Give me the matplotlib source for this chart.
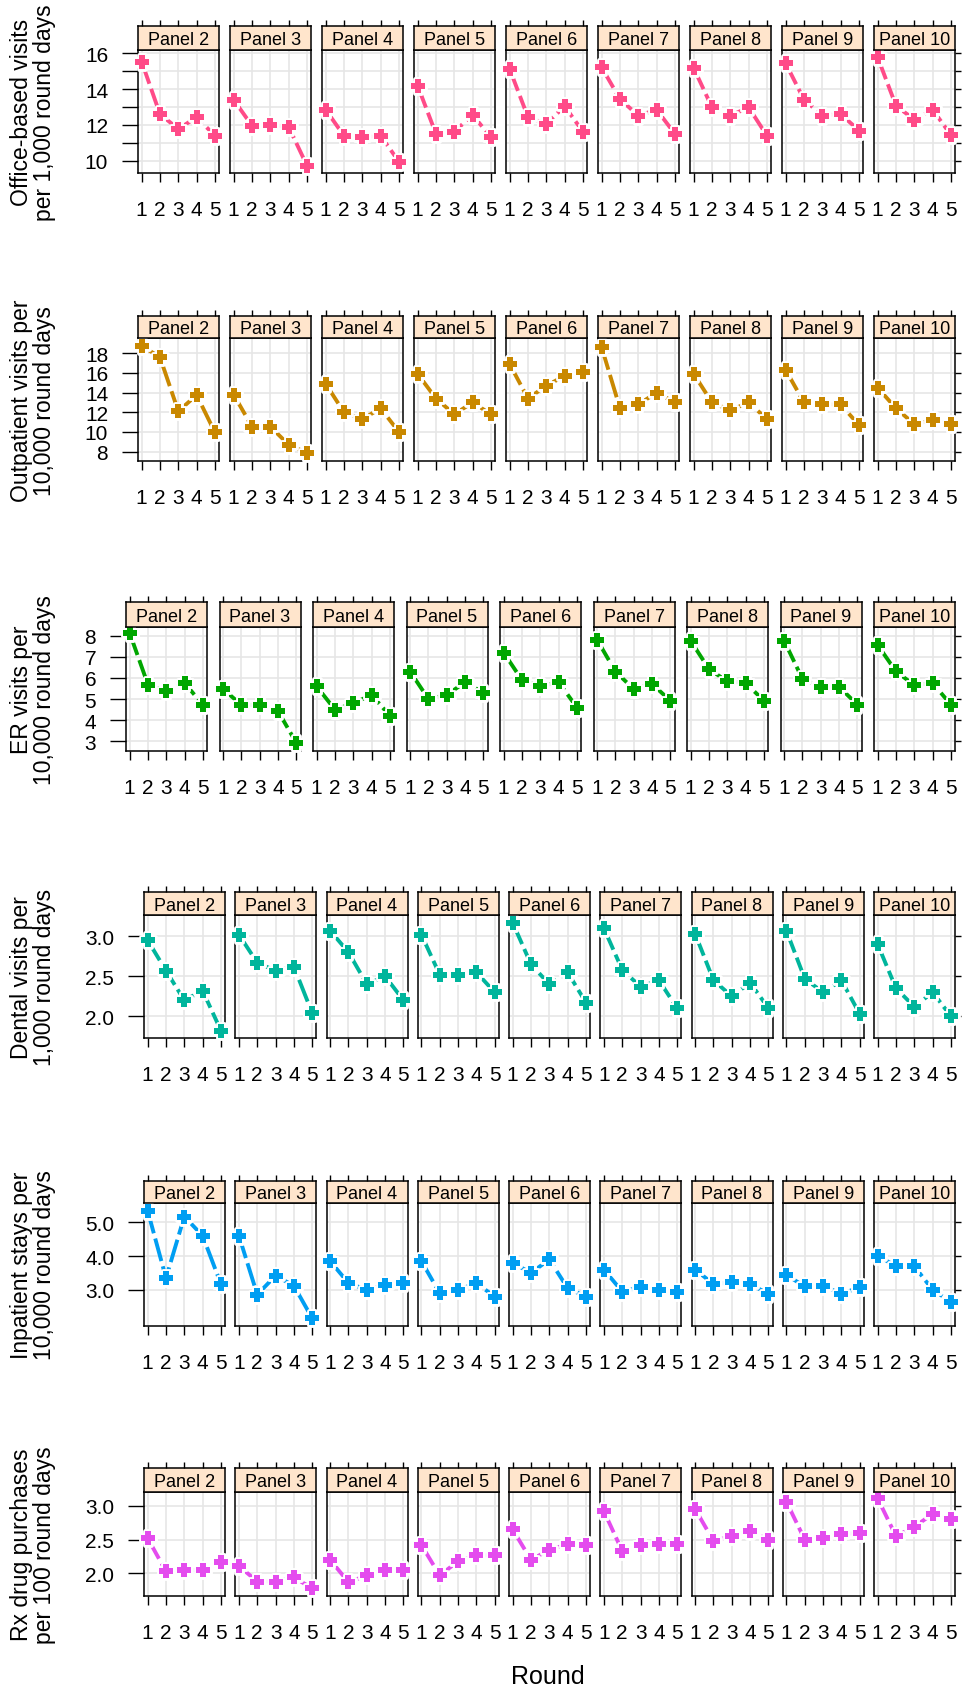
import matplotlib.pyplot as plt
from matplotlib.path import Path

plt.rcParams['font.family'] = ['Liberation Sans', 'DejaVu Sans']

rounds = [1, 2, 3, 4, 5]
panels = ['Panel 2', 'Panel 3', 'Panel 4', 'Panel 5', 'Panel 6',
          'Panel 7', 'Panel 8', 'Panel 9', 'Panel 10']

# one list of 5 rounds per panel
office = [[15.52, 12.60, 11.78, 12.43, 11.40],
          [13.40, 11.96, 12.00, 11.90, 9.74],
          [12.85, 11.40, 11.31, 11.40, 9.96],
          [14.18, 11.50, 11.63, 12.56, 11.31],
          [15.11, 12.43, 12.06, 13.04, 11.63],
          [15.20, 13.44, 12.52, 12.85, 11.50],
          [15.17, 12.98, 12.52, 12.98, 11.40],
          [15.43, 13.41, 12.52, 12.61, 11.69],
          [15.76, 13.07, 12.30, 12.85, 11.44]]
outpatient = [[18.77, 17.59, 12.10, 13.76, 9.95],
              [13.80, 10.54, 10.54, 8.71, 7.87],
              [14.90, 12.00, 11.30, 12.40, 10.00],
              [15.90, 13.40, 11.80, 13.00, 11.80],
              [16.90, 13.40, 14.70, 15.70, 16.10],
              [18.60, 12.40, 12.80, 14.00, 13.00],
              [15.90, 13.00, 12.20, 13.00, 11.30],
              [16.30, 13.00, 12.80, 12.80, 10.70],
              [14.50, 12.40, 10.80, 11.20, 10.80]]
er = [[8.13, 5.68, 5.36, 5.76, 4.72],
      [5.47, 4.72, 4.73, 4.42, 2.91],
      [5.60, 4.50, 4.80, 5.20, 4.20],
      [6.30, 5.00, 5.20, 5.80, 5.30],
      [7.20, 5.90, 5.60, 5.80, 4.60],
      [7.80, 6.30, 5.47, 5.71, 4.92],
      [7.76, 6.42, 5.84, 5.76, 4.92],
      [7.76, 5.95, 5.58, 5.58, 4.73],
      [7.56, 6.31, 5.66, 5.76, 4.73]]
dental = [[2.95, 2.57, 2.20, 2.32, 1.82],
          [3.02, 2.67, 2.57, 2.62, 2.04],
          [3.07, 2.80, 2.40, 2.50, 2.20],
          [3.02, 2.52, 2.52, 2.55, 2.30],
          [3.17, 2.65, 2.40, 2.55, 2.17],
          [3.10, 2.58, 2.37, 2.45, 2.10],
          [3.03, 2.45, 2.25, 2.42, 2.10],
          [3.07, 2.47, 2.30, 2.45, 2.03],
          [2.90, 2.35, 2.12, 2.30, 2.00]]
inpatient = [[5.34, 3.35, 5.17, 4.60, 3.17],
             [4.60, 2.86, 3.42, 3.12, 2.16],
             [3.85, 3.20, 3.00, 3.15, 3.20],
             [3.85, 2.90, 3.00, 3.20, 2.80],
             [3.80, 3.50, 3.90, 3.05, 2.80],
             [3.60, 2.95, 3.08, 3.00, 2.95],
             [3.60, 3.17, 3.22, 3.17, 2.88],
             [3.44, 3.10, 3.12, 2.88, 3.08],
             [4.01, 3.70, 3.70, 3.00, 2.65]]
rx = [[2.52, 2.03, 2.05, 2.05, 2.17],
      [2.11, 1.88, 1.88, 1.94, 1.78],
      [2.20, 1.87, 1.97, 2.05, 2.05],
      [2.42, 1.97, 2.18, 2.27, 2.27],
      [2.65, 2.20, 2.35, 2.43, 2.42],
      [2.92, 2.33, 2.42, 2.43, 2.43],
      [2.95, 2.48, 2.55, 2.62, 2.50],
      [3.06, 2.50, 2.53, 2.58, 2.60],
      [3.11, 2.55, 2.69, 2.88, 2.80]]

measures = [office, outpatient, er, dental, inpatient, rx]
ylabels = ['Office-based visits\nper 1,000 round days',
           'Outpatient visits per\n10,000 round days',
           'ER visits per\n10,000 round days',
           'Dental visits per\n1,000 round days',
           'Inpatient stays per\n10,000 round days',
           'Rx drug purchases\nper 100 round days']
yticks = [[10, 11, 12, 13, 14, 15, 16],
          [8, 10, 12, 14, 16, 18],
          [3, 4, 5, 6, 7, 8],
          [2.0, 2.5, 3.0],
          [3.0, 4.0, 5.0],
          [2.0, 2.5, 3.0]]
yticklabels = [['10', '', '12', '', '14', '', '16'],
               ['8', '10', '12', '14', '16', '18'],
               ['3', '4', '5', '6', '7', '8'],
               ['2.0', '2.5', '3.0'],
               ['3.0', '4.0', '5.0'],
               ['2.0', '2.5', '3.0']]
ylims = [(9.33, 16.17), (7.02, 19.55), (2.555, 8.40),
         (1.725, 3.27), (1.94, 5.57), (1.67, 3.20)]
colors = ['#FF4B88', '#C98800', '#00A600', '#00B59C', '#009EF2', '#E44CEE']

# pixel layout per row: panel left, strip top, panel top, panel bottom
layout = [(138, 27, 51, 174),
          (138, 316.7, 339, 462.3),
          (126, 603.3, 628.3, 751.7),
          (144, 892.7, 915.7, 1039.3),
          (144, 1181.7, 1204, 1326.7),
          (144, 1468.7, 1493.3, 1596.7)]

W, H = 963, 1690
fig = plt.figure(figsize=(W / 100, H / 100), dpi=100)

# chunky plus marker
a = 0.42
fatplus = Path([(-a, 1), (a, 1), (a, a), (1, a), (1, -a), (a, -a), (a, -1),
                (-a, -1), (-a, -a), (-1, -a), (-1, a), (-a, a), (-a, 1)],
               closed=True)


def box(x0, y0, x1, y1):
    return [x0 / W, 1 - y1 / H, (x1 - x0) / W, (y1 - y0) / H]


RIGHT = 955
PW = 81.0

for r, data in enumerate(measures):
    left, stop, ptop, pbot = layout[r]
    gap = (RIGHT - left - 9 * PW) / 8
    for j in range(9):
        x0 = left + j * (PW + gap)
        x1 = x0 + PW
        ax = fig.add_axes(box(x0, ptop, x1, pbot))
        sax = fig.add_axes(box(x0, stop, x1, ptop))

        ax.set_xlim(0.8, 5.22)
        ax.set_ylim(ylims[r])
        ax.set_xticks(rounds)
        ax.set_yticks(yticks[r])
        ax.set_yticklabels(yticklabels[r])
        ax.grid(True, color='#E6E6E6', lw=1.2)
        ax.set_axisbelow(True)
        ax.tick_params(axis='x', direction='out', length=6.5, width=1,
                       pad=13, labelsize=15)
        if j == 0:
            ax.tick_params(axis='y', left=True, right=False, labelleft=True,
                           direction='out', length=11.5, width=1, pad=10,
                           labelsize=15)
        elif j == 8:
            ax.tick_params(axis='y', left=False, right=True, labelleft=False,
                           labelright=False, direction='out', length=4.5,
                           width=1)
        else:
            ax.tick_params(axis='y', left=False, labelleft=False)
        for s in ax.spines.values():
            s.set_linewidth(1.1)

        c = colors[r]
        ax.plot(rounds, data[j], color=c, lw=2.8, ls=(0, (6, 1.4)),
                solid_capstyle='butt', zorder=3)
        ax.plot(rounds, data[j], marker=fatplus, ls='none', ms=10.5,
                mfc='white', mec='white', mew=3.5, zorder=4, clip_on=False)
        ax.plot(rounds, data[j], marker=fatplus, ls='none', ms=10.5, color=c,
                mew=0, zorder=5, clip_on=False)

        sax.set_facecolor('#FFE5CC')
        sax.set_xlim(0.8, 5.22)
        sax.set_xticks(rounds)
        sax.set_yticks([])
        sax.tick_params(axis='x', top=True, bottom=False, labeltop=False,
                        labelbottom=False, direction='out', length=4.3,
                        width=1)
        for s in sax.spines.values():
            s.set_linewidth(1.1)
        sax.text(0.5, 0.42, panels[j], transform=sax.transAxes,
                 ha='center', va='center', fontsize=13)

    fig.text(33 / W, 1 - ((ptop + pbot) / 2) / H, ylabels[r], rotation=90,
             ha='center', va='center', fontsize=16.5, linespacing=1.05,
             multialignment='center')

fig.text(548 / W, 1 - 1677 / H, 'Round', ha='center', va='center',
         fontsize=18)

fig.savefig('out.png', dpi=100)
